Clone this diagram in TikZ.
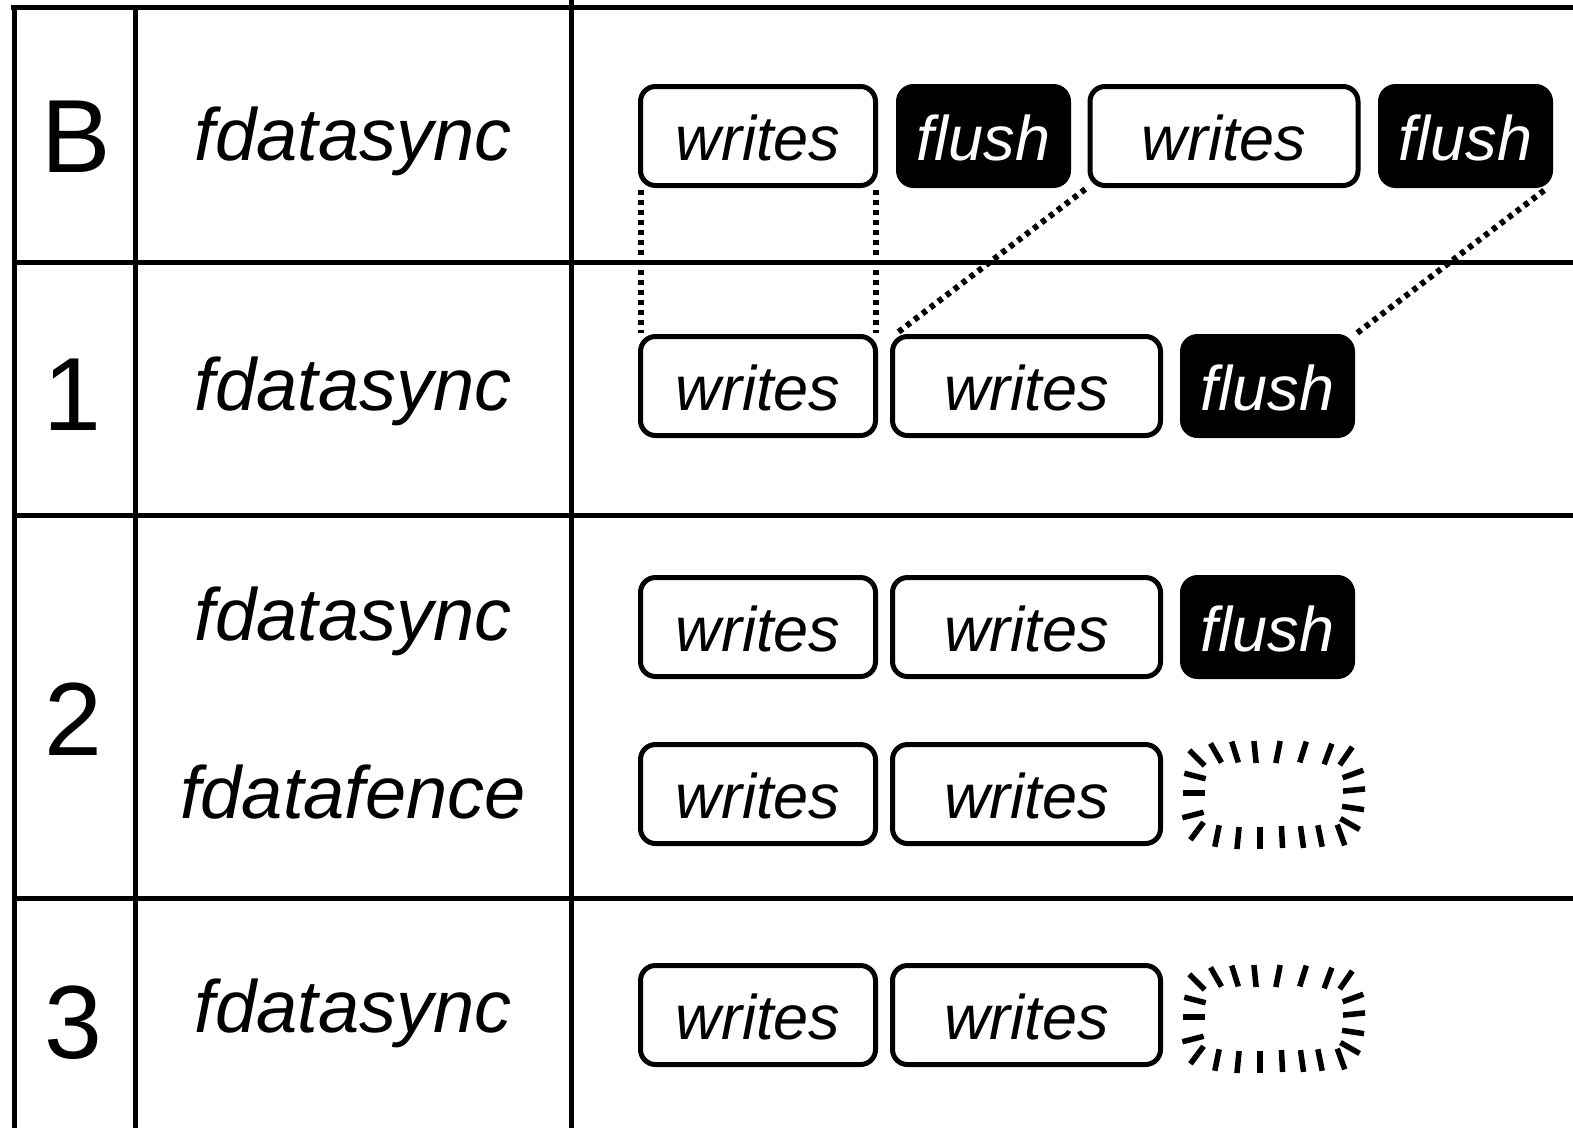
\documentclass[tikz,border=0pt]{standalone}
\usepackage{fontspec}
\setmainfont{Liberation Sans}
% a placeholder drawn as a ring of short strokes: midpoint / outward half-vector
\newcommand{\pendingmark}[2]{%
  \coordinate (#2) at (#1);
  \begin{scope}[shift={(#1)}]
    \foreach \mx/\my/\ux/\uy in {
        -77/-36/-7/-7, -58/-41/-5/-8.7, -39/-42/-3/-9.5, -19/-42/-1/-10,
        4/-42/2/-10, 29/-42/3/-9.5, 54/-40/3.5/-9.4, 72/-38/5.7/-8.2,
        79/-20/9.4/-3.4, 80/-4/10/-1, 79/14/10/1.5, 76/30/8.7/5,
        67/41/3.4/9.4, 46/42/2/9.8, 28/43/1.4/9.9, 8/43/0.5/10,
        -14/44/0/10, -36/44/-1/10, -57/42/-2/9.8, -77/37/-6/8,
        -81/21/-9.7/2.5, -80/-1/-10/0, -79/-18/-9.7/-2.5}
      \draw[line width=5.5pt] (\mx-1.1*\ux,\my-1.1*\uy) -- (\mx+1.1*\ux,\my+1.1*\uy);
  \end{scope}}
\begin{document}
\begin{tikzpicture}[x=1pt,y=-1pt,
  rule/.style={line width=5pt},
  blk/.style={draw, line width=5pt, rounded corners=15pt, outer sep=0pt, inner sep=0pt,
    minimum height=99pt, text height=48pt, text depth=0pt,
    font=\fontsize{63}{63}\selectfont\itshape},
  wrA/.style={blk, fill=white, minimum width=235pt},
  wrB/.style={blk, fill=white, minimum width=268pt},
  fl/.style={blk, fill=black, text=white, minimum width=170pt},
  lab/.style={font=\fontsize{74}{74}\selectfont\itshape, anchor=base, inner sep=0pt},
  num/.style={font=\fontsize{104}{104}\selectfont, anchor=base, inner sep=0pt},
  sync/.style={line width=6pt, dash pattern=on 5pt off 5pt, shorten <=4pt, shorten >=4pt}
]
\useasboundingbox (0,0) rectangle (1573,1128);

% table rules
\draw[rule] (11,7) -- (1573,7);
\draw[rule] (14,5) -- (14,1128);
\draw[rule] (135,5) -- (135,1128);
\draw[rule] (571,0) -- (571,1128);
\draw[rule] (14,262) -- (1573,262);
\draw[rule] (14,515) -- (1573,515);
\draw[rule] (14,898) -- (1573,898);

% first column
\node[num] (nB) at (76,172) {B};
\node[num] (n1) at (72,430) {1};
\node[num] (n2) at (73,755) {2};
\node[num] (n3) at (73,1058) {3};

% second column
\node[lab] (lB) at (353,160) {fdatasync};
\node[lab] (l1) at (353,410) {fdatasync};
\node[lab] (l2a) at (353,640) {fdatasync};
\node[lab] (l2b) at (353,818) {fdatafence};
\node[lab] (l3) at (353,1032) {fdatasync};

% row B
\node[wrA] (bw1) at (758,136) {writes};
\node[fl]  (bf1) at (983.5,136) {flush};
\node[wrB] (bw2) at (1224,136) {writes};
\node[fl]  (bf2) at (1465.5,136) {flush};

% row 1
\node[wrA] (w11) at (758,386) {writes};
\node[wrB] (w12) at (1026.5,386) {writes};
\node[fl]  (f1)  at (1267.5,386) {flush};

% row 2
\node[wrA] (w21) at (758,627) {writes};
\node[wrB] (w22) at (1026.5,627) {writes};
\node[fl]  (f2)  at (1267.5,627) {flush};
\node[wrA] (w23) at (758,794) {writes};
\node[wrB] (w24) at (1026.5,794) {writes};
\pendingmark{1274,794}{p2}

% row 3
\node[wrA] (w31) at (758,1015) {writes};
\node[wrB] (w32) at (1026.5,1015) {writes};
\pendingmark{1274,1018}{p3}

% correspondences between rows B and 1
\draw[sync] (bw1.south west) -- (w11.north west);
\draw[sync] (bw1.south east) -- (w11.north east);
\draw[sync, shorten <=6pt, shorten >=6pt] (bw2.south west) -- (w12.north west);
\draw[sync, shorten <=8pt, shorten >=6pt] (bf2.south east) -- (f1.north east);
\end{tikzpicture}
\end{document}
